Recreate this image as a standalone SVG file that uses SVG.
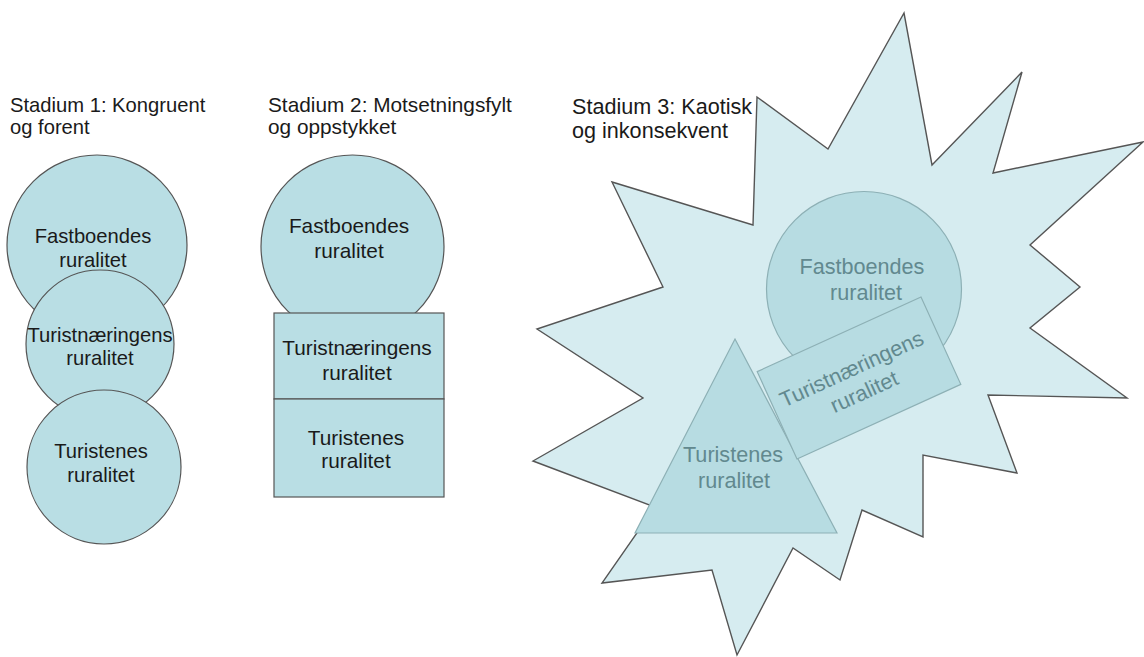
<svg xmlns="http://www.w3.org/2000/svg" width="1144" height="657" viewBox="0 0 1144 657">
<style>
text{font-family:"Liberation Sans",Arial,sans-serif;font-size:20.2px}
#stage2 text{font-size:20.8px}
#stage3 text{font-size:21.6px}
.t{fill:#1a1a1a}
.c{fill:#b9dee4;stroke:#555;stroke-width:1.2}
.star{fill:#d6ecf0;stroke:#555;stroke-width:1.4;stroke-linejoin:miter}
.s3{fill:#b7dce2;stroke:#8db0b5;stroke-width:1.2}
.g{fill:#62898f}
.m{text-anchor:middle}
</style>
<rect width="1144" height="657" fill="#fff"/>
<g id="stage1">
<text class="t" x="10" y="112">Stadium 1: Kongruent</text>
<text class="t" x="10" y="134">og forent</text>
<g id="s1-fast"><circle class="c" cx="97" cy="245" r="90"/></g>
<g id="s1-turistn"><circle class="c" cx="100" cy="344" r="74"/></g>
<g id="s1-turistenes"><circle class="c" cx="104" cy="467" r="77"/></g>
<text class="t m" x="93" y="243">Fastboendes</text>
<text class="t m" x="93" y="267">ruralitet</text>
<text class="t m" x="100" y="342">Turistnæringens</text>
<text class="t m" x="100" y="365">ruralitet</text>
<text class="t m" x="101" y="458">Turistenes</text>
<text class="t m" x="101" y="482">ruralitet</text>
</g>
<g id="stage2">
<text class="t" x="268" y="112">Stadium 2: Motsetningsfylt</text>
<text class="t" x="268" y="134">og oppstykket</text>
<g id="s2-fast"><circle class="c" cx="352.5" cy="246.5" r="91.5"/>
<text class="t m" x="349" y="233">Fastboendes</text>
<text class="t m" x="349" y="258">ruralitet</text></g>
<g id="s2-turistn"><rect class="c" x="274" y="313" width="170" height="86"/>
<text class="t m" x="357" y="355">Turistnæringens</text>
<text class="t m" x="357" y="380">ruralitet</text></g>
<g id="s2-turistenes"><rect class="c" x="274" y="399" width="170" height="98"/>
<text class="t m" x="356" y="445">Turistenes</text>
<text class="t m" x="356" y="468">ruralitet</text></g>
</g>
<g id="stage3">
<g id="s3-star"><polygon class="star" points="904,13 932,165 1022,72 993,173 1143,142 1030,245 1080,287 1030,328 1127,398 988,395 1017,473 923,455 923,537 862,510 840,580 793,548 737,655 712,570 602,583 655,507 533,461 643,398 537,329 663,287 612,182 753,225 757,97 828,149"/></g>
<text class="t" x="572" y="114">Stadium 3: Kaotisk</text>
<text class="t" x="572" y="138">og inkonsekvent</text>
<g id="s3-fast"><circle class="s3" cx="864" cy="289" r="97.5"/>
<text class="g m" x="862" y="274">Fastboendes</text>
<text class="g m" x="866" y="300">ruralitet</text></g>
<g id="s3-turistenes"><polygon class="s3" points="735,339 837,533 635,533"/>
<text class="g m" x="733" y="462">Turistenes</text>
<text class="g m" x="734" y="488">ruralitet</text></g>
<g id="s3-turistn" transform="translate(859,378) rotate(-24.5)"><rect class="s3" x="-90" y="-48" width="180" height="96"/>
<text class="g m" x="-3" y="-4">Turistnæringens</text>
<text class="g m" x="-1" y="22">ruralitet</text></g>
</g>
<g id="connectors"></g>
</svg>
